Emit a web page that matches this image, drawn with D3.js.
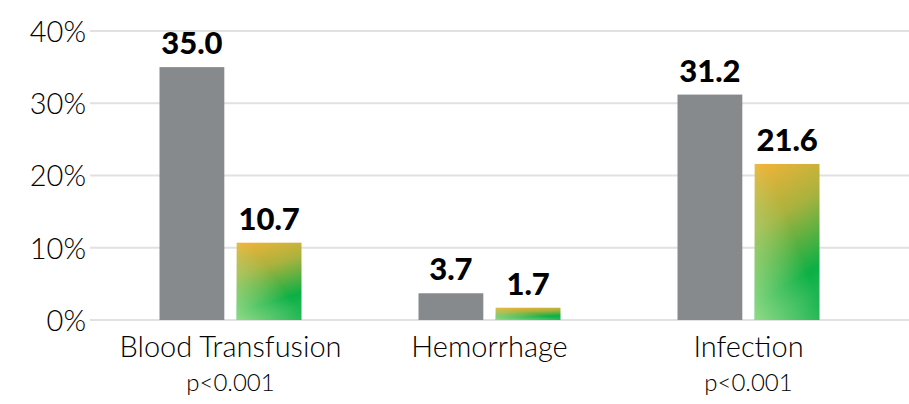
<!DOCTYPE html>
<html>
<head>
<meta charset="utf-8">
<script src="https://cdn.jsdelivr.net/npm/d3@7"></script>
<style>
  body { margin: 0; background: #fff; }
  svg text { font-family: Lato, "Open Sans", sans-serif; fill: #000; }
</style>
</head>
<body>
<div id="chart"></div>
<script>
// data
const categories = ['Blood Transfusion', 'Hemorrhage', 'Infection'];
const pValues = ['p<0.001', '', 'p<0.001'];
const series = ['before', 'after'];
const beforeValues = [35.0, 3.7, 31.2];
const afterValues = [10.7, 1.7, 21.6];
const yTicks = [0, 10, 20, 30, 40];

const width = 909;
const height = 404;

const svg = d3.select('#chart')
  .append('svg')
    .attr('width', width)
    .attr('height', height);

const defs = svg.append('defs');
const grad = defs.append('linearGradient')
  .attr('id', 'barGrad')
  .attr('x1', 0).attr('y1', 0)
  .attr('x2', 0.25).attr('y2', 1);
grad.append('stop').attr('offset', '0%').attr('stop-color', '#f5b337');
grad.append('stop').attr('offset', '40%').attr('stop-color', '#a9b23e');
grad.append('stop').attr('offset', '85%').attr('stop-color', '#0bb045');
grad.append('stop').attr('offset', '100%').attr('stop-color', '#1db552');

const glow = defs.append('linearGradient')
  .attr('id', 'barGlow')
  .attr('x1', 0).attr('y1', 1)
  .attr('x2', 0.6).attr('y2', 0.45);
glow.append('stop').attr('offset', '0%').attr('stop-color', '#a8e090').attr('stop-opacity', 0.85);
glow.append('stop').attr('offset', '100%').attr('stop-color', '#a8e090').attr('stop-opacity', 0);

const y = d3.scaleLinear()
  .domain([0, 40])
  .range([320, 31]);

const x = d3.scaleBand()
  .domain(categories)
  .range([101, 878]);

const xInner = d3.scaleBand()
  .domain(series)
  .range([0, 142])
  .paddingInner(0.16);

// grid
svg.append('g')
  .attr('class', 'grid')
  .selectAll('line')
  .data(yTicks)
  .enter()
  .append('line')
    .attr('x1', 90)
    .attr('x2', width)
    .attr('y1', d => y(d))
    .attr('y2', d => y(d))
    .attr('stroke', '#e1e1e1')
    .attr('stroke-width', 2);

// y axis labels
svg.append('g')
  .attr('transform', `translate(${86}, 0)`)
  .call(d3.axisLeft(y).tickValues(yTicks).tickFormat(d => d + '%').tickSize(0).tickPadding(0))
  .call(g => g.select('.domain').remove())
  .selectAll('text')
    .style('font-size', '29px')
    .style('font-weight', '300')
    .style('font-family', 'Lato, sans-serif')
    .attr('fill', '#000')
    .attr('dy', '0.36em');

const rows = categories.map((c, i) => ({ cat: c, before: beforeValues[i], after: afterValues[i] }));

const groups = svg.selectAll('.group')
  .data(rows)
  .enter()
  .append('g')
    .attr('class', 'group')
    .attr('transform', d => `translate(${x(d.cat) + x.bandwidth() / 2 - 71}, 0)`);

// gray bars
groups.append('rect')
  .attr('x', xInner('before'))
  .attr('y', d => y(d.before))
  .attr('width', xInner.bandwidth())
  .attr('height', d => y(0) - y(d.before))
  .attr('fill', '#878a8d');

// gradient bars
groups.append('rect')
  .attr('x', xInner('after'))
  .attr('y', d => y(d.after))
  .attr('width', xInner.bandwidth())
  .attr('height', d => y(0) - y(d.after))
  .attr('fill', 'url(#barGrad)');
groups.append('rect')
  .attr('x', xInner('after'))
  .attr('y', d => y(d.after))
  .attr('width', xInner.bandwidth())
  .attr('height', d => y(0) - y(d.after))
  .attr('fill', 'url(#barGlow)');

// value labels
groups.append('text')
  .attr('x', xInner('before') + xInner.bandwidth() / 2)
  .attr('y', d => y(d.before) - 13)
  .attr('text-anchor', 'middle')
  .style('font-size', '31px')
  .style('font-weight', '900')
  .text(d => d.before.toFixed(1));
groups.append('text')
  .attr('x', xInner('after') + xInner.bandwidth() / 2)
  .attr('y', d => y(d.after) - 13)
  .attr('text-anchor', 'middle')
  .style('font-size', '31px')
  .style('font-weight', '900')
  .text(d => d.after.toFixed(1));

// category labels
groups.append('text')
  .attr('x', 71)
  .attr('y', 357)
  .attr('text-anchor', 'middle')
  .style('font-size', '29px')
  .style('font-weight', '300')
  .text(d => d.cat);
groups.append('text')
  .attr('x', 71)
  .attr('y', 391)
  .attr('text-anchor', 'middle')
  .style('font-size', '24px')
  .style('font-weight', '300')
  .text((d, i) => pValues[i]);
</script>
</body>
</html>
